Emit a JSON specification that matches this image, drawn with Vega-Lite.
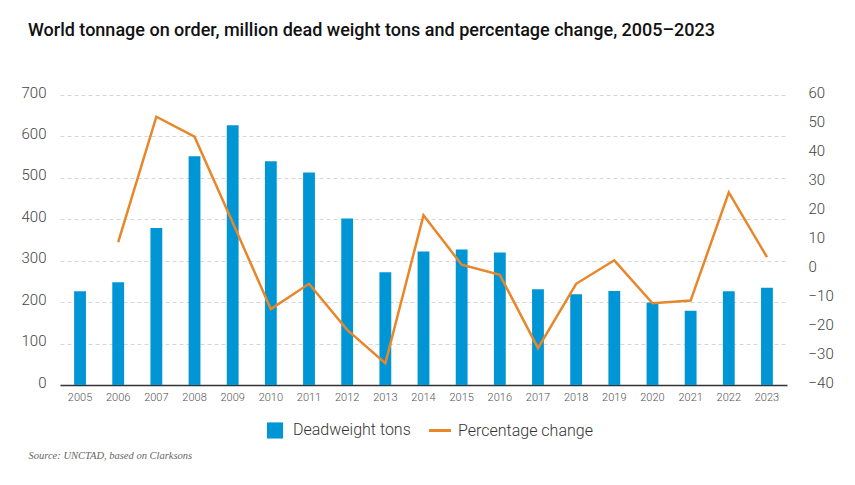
{
  "$schema": "https://vega.github.io/schema/vega-lite/v6.json",
  "width": 727,
  "height": 290,
  "autosize": {"type": "none"},
  "padding": {"left": 60, "top": 95, "right": 68, "bottom": 100},
  "background": "white",
  "title": {
    "text": "World tonnage on order, million dead weight tons and percentage change, 2005–2023",
    "anchor": "start",
    "frame": "group",
    "dx": -32,
    "offset": 45,
    "font": "Roboto",
    "fontSize": 18,
    "fontWeight": 500,
    "color": "#111111"
  },
  "data": {
    "values": [
      {"year": "2005", "dwt": 226, "pct": null},
      {"year": "2006", "dwt": 248, "pct": 9.3},
      {"year": "2007", "dwt": 379, "pct": 52.5},
      {"year": "2008", "dwt": 552, "pct": 45.6},
      {"year": "2009", "dwt": 627, "pct": 16},
      {"year": "2010", "dwt": 540, "pct": -13.8},
      {"year": "2011", "dwt": 513, "pct": -5.1},
      {"year": "2012", "dwt": 402, "pct": -21},
      {"year": "2013", "dwt": 272, "pct": -32.5},
      {"year": "2014", "dwt": 322, "pct": 18.5},
      {"year": "2015", "dwt": 327, "pct": 1.5},
      {"year": "2016", "dwt": 320, "pct": -2},
      {"year": "2017", "dwt": 231, "pct": -27.3},
      {"year": "2018", "dwt": 219, "pct": -5.1},
      {"year": "2019", "dwt": 227, "pct": 3},
      {"year": "2020", "dwt": 199, "pct": -11.8},
      {"year": "2021", "dwt": 179, "pct": -10.9},
      {"year": "2022", "dwt": 226, "pct": 26.4},
      {"year": "2023", "dwt": 235, "pct": 4.1}
    ]
  },
  "encoding": {
    "x": {
      "field": "year",
      "type": "ordinal",
      "scale": {"paddingInner": 0.69, "paddingOuter": 0.37},
      "axis": {
        "title": "Source: UNCTAD, based on Clarksons",
        "titleFont": "Liberation Serif",
        "titleFontStyle": "italic",
        "titleFontWeight": "normal",
        "titleFontSize": 10.5,
        "titleColor": "#666666",
        "titleAlign": "left",
        "titleAnchor": "start",
        "titleBaseline": "middle",
        "titleX": -32,
        "titleY": 70,
        "labelAngle": 0,
        "labelFont": "Roboto",
        "labelFontWeight": 300,
        "labelFontSize": 11,
        "labelColor": "#555555",
        "labelPadding": 6,
        "ticks": false,
        "domainColor": "#333333",
        "domainWidth": 1.5,
        "grid": false
      }
    }
  },
  "layer": [
    {
      "mark": {"type": "bar"},
      "encoding": {
        "y": {
          "field": "dwt",
          "type": "quantitative",
          "scale": {"domain": [0, 700]},
          "axis": {
            "title": null,
            "values": [0, 100, 200, 300, 400, 500, 600, 700],
            "orient": "left",
            "domain": false,
            "ticks": false,
            "grid": true,
            "gridColor": "#d6d6d6",
            "gridDash": [4, 3],
            "gridWidth": 1,
            "labelFont": "Roboto",
            "labelFontWeight": 300,
            "labelFontSize": 15,
            "labelColor": "#444444",
            "labelPadding": 14,
            "labelOffset": -3
          }
        },
        "color": {
          "datum": "Deadweight tons",
          "scale": {"domain": ["Deadweight tons", "Percentage change"], "range": ["#0096d6", "#e8862a"]},
          "legend": {
            "title": null,
            "orient": "none",
            "direction": "horizontal",
            "legendX": 207,
            "legendY": 327,
            "labelFont": "Roboto",
            "labelFontWeight": 300,
            "labelFontSize": 16,
            "labelColor": "#333333",
            "labelOffset": 10,
            "columnPadding": 12,
            "symbolOffset": 0,
            "encode": {
              "symbols": {
                "update": {
                  "shape": {"signal": "datum.value === 'Deadweight tons' ? 'square' : 'stroke'"},
                  "size": {"signal": "datum.value === 'Deadweight tons' ? 260 : 480"},
                  "fill": {"signal": "datum.value === 'Deadweight tons' ? '#45b5e6' : 'transparent'"},
                  "stroke": {"signal": "datum.value === 'Deadweight tons' ? 'transparent' : '#e8862a'"},
                  "strokeWidth": {"signal": "datum.value === 'Deadweight tons' ? 0 : 3"},
                  "opacity": {"value": 1}
                }
              }
            }
          }
        }
      }
    },
    {
      "mark": {"type": "line", "strokeWidth": 2.5, "strokeJoin": "miter"},
      "encoding": {
        "y": {
          "field": "pct",
          "type": "quantitative",
          "scale": {"domain": [-40, 60]},
          "axis": {
            "title": null,
            "orient": "right",
            "values": [-40, -30, -20, -10, 0, 10, 20, 30, 40, 50, 60],
            "domain": false,
            "ticks": false,
            "grid": false,
            "labelFont": "Roboto",
            "labelFontWeight": 300,
            "labelFontSize": 15,
            "labelColor": "#444444",
            "labelPadding": 21,
            "labelOffset": -3
          }
        },
        "color": {"datum": "Percentage change"}
      }
    }
  ],
  "resolve": {"scale": {"y": "independent"}},
  "config": {"view": {"stroke": null}}
}
